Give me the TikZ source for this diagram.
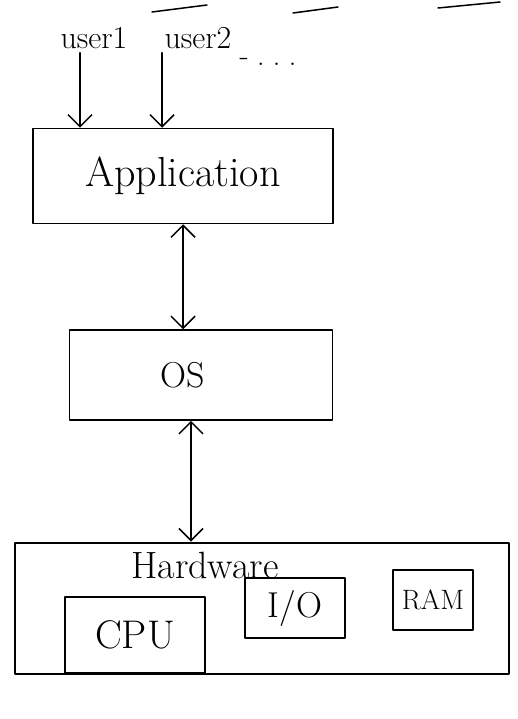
\documentclass[tikz,border=0pt]{standalone}
\usetikzlibrary{arrows.meta}
\begin{document}
\begin{tikzpicture}[x=1pt,y=-1pt,
  line width=1.5pt, line cap=round, line join=round,
  box/.style={draw, rectangle, inner sep=0pt, line width=1.5pt},
  tip/.style={-{Straight Barb[length=12pt,width=24pt,line width=1.5pt]}},
  bitip/.style={{Straight Barb[length=12pt,width=24pt,line width=1.5pt]}-{Straight Barb[length=12pt,width=24pt,line width=1.5pt]}}
]
\useasboundingbox (0,0) rectangle (517,719);
% stray strokes at the top
\draw (152,12) -- (207,5);
\draw (293,13) -- (338,7);
\draw (438,8) -- (500,2);
% users
\node[font=\fontsize{32}{36}\selectfont] (u1) at (94,38) {user1};
\node[font=\fontsize{32}{36}\selectfont] (u2) at (198,38) {user2};
\node[font=\fontsize{30}{34}\selectfont] (dots) at (268,62) {-\;.\;.\;.};
% boxes
\node[box, minimum width=300pt, minimum height=95pt] (app) at (183,176) {};
\node[font=\fontsize{42}{46}\selectfont] (appt) at (app.center) {Application};
\node[box, minimum width=263pt, minimum height=90pt] (os) at (201,375) {};
\node[font=\fontsize{36}{40}\selectfont] (ost) at ([xshift=-18pt]os.center) {OS};
\node[box, line width=2pt, minimum width=494pt, minimum height=131pt] (hw) at (262,608) {};
\node[font=\fontsize{38}{42}\selectfont] (hwt) at (205,565) {Hardware};
\node[box, minimum width=140pt, minimum height=76pt, font=\fontsize{40}{44}\selectfont] (cpu) at (135,635) {CPU};
\node[box, minimum width=100pt, minimum height=60pt, font=\fontsize{36}{40}\selectfont] (io) at (295,608) {I/O};
\node[box, minimum width=80pt, minimum height=60pt, font=\fontsize{28}{32}\selectfont] (ram) at (433,600) {RAM};
% connectors
\draw[tip] ([xshift=-14pt]u1.south) -- ([xshift=-14pt]u1.south |- app.north);
\draw[tip] ([xshift=-36pt]u2.south) -- ([xshift=-36pt]u2.south |- app.north);
\draw[bitip] (app.south) -- (app.south |- os.north);
\draw[bitip] ([xshift=-10pt]os.south) -- ([xshift=-10pt]os.south |- hw.north);
\end{tikzpicture}
\end{document}
